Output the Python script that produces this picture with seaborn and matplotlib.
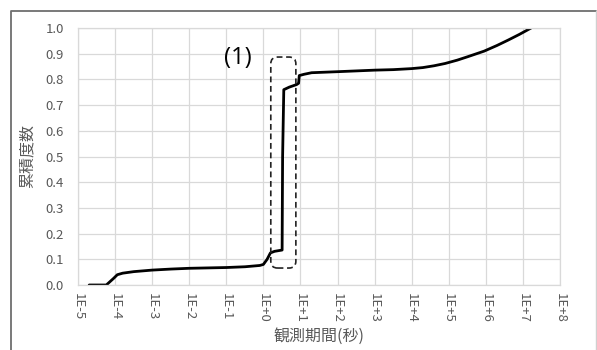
import numpy as np
import pandas as pd
import matplotlib
matplotlib.use("Agg")
import matplotlib.pyplot as plt
import seaborn as sns
from matplotlib.patches import FancyBboxPatch
from matplotlib.lines import Line2D

# 観測期間(秒) と 累積度数
period_sec = [2.0e-5, 5.8e-5, 9.0e-5, 1.15e-4, 1.6e-4, 3.2e-4, 1.0e-3, 3.2e-3,
              1.0e-2, 1.0e-1, 3.2e-1, 8.0e-1, 1.0, 1.26, 1.55, 2.0, 3.2, 3.3,
              3.55, 5.0, 7.9, 8.9, 9.3, 12.6, 20.0, 1.0e2, 1.0e3, 3.2e3,
              1.0e4, 2.0e4, 4.0e4, 8.0e4, 1.7e5, 3.2e5, 9.0e5, 2.0e6,
              4.0e6, 8.0e6, 1.66e7]
cum_freq = [0.0, 0.0, 0.025, 0.04, 0.046, 0.052, 0.058, 0.062,
            0.065, 0.068, 0.071, 0.076, 0.08, 0.10, 0.125, 0.131, 0.136, 0.50,
            0.76, 0.77, 0.78, 0.785, 0.815, 0.82, 0.826, 0.83, 0.836, 0.838,
            0.842, 0.846, 0.853, 0.862, 0.875, 0.888, 0.91, 0.932,
            0.953, 0.975, 1.0]

x_exponents = [-5, -4, -3, -2, -1, 0, 1, 2, 3, 4, 5, 6, 7, 8]
x_tick_labels = ["1E-5", "1E-4", "1E-3", "1E-2", "1E-1", "1E+0", "1E+1",
                 "1E+2", "1E+3", "1E+4", "1E+5", "1E+6", "1E+7", "1E+8"]
y_ticks = [0.0, 0.1, 0.2, 0.3, 0.4, 0.5, 0.6, 0.7, 0.8, 0.9, 1.0]

df = pd.DataFrame({"period": period_sec, "cum": cum_freq})

sns.set_theme(style="whitegrid")
plt.rcParams['font.family'] = ['Noto Sans CJK JP', 'DejaVu Sans']

fig = plt.figure(figsize=(5.97, 3.5), dpi=100)
ax = fig.add_axes([78 / 597, 65 / 350, 482 / 597, 257 / 350])

sns.lineplot(data=df, x="period", y="cum", ax=ax, color="black",
             linewidth=2.0, sort=False, estimator=None)

ax.set_xscale("log")
ax.set_xlim(1e-5, 1e8)
ax.set_ylim(0, 1.0)
ax.set_xticks([10.0 ** e for e in x_exponents])
ax.set_xticklabels(x_tick_labels, rotation=270)
ax.minorticks_off()
ax.set_yticks(y_ticks)
ax.set_yticklabels([f"{v:.1f}" for v in y_ticks])

grey = "#d9d9d9"
ax.grid(True, color=grey, linewidth=0.9)
for sp in ax.spines.values():
    sp.set_color(grey)
    sp.set_linewidth(0.9)
ax.tick_params(axis="both", colors="#595959", labelsize=9.5, length=0)
ax.tick_params(axis="x", pad=6)
ax.tick_params(axis="y", pad=10)

ax.set_xlabel("観測期間(秒)", fontsize=11.5, color="#595959", labelpad=3)
ax.set_ylabel("累積度数", fontsize=11.5, color="#595959", labelpad=7)

# 注目範囲 (1) の破線枠
box = FancyBboxPatch((0.400, 0.066), 0.052, 0.821, transform=ax.transAxes,
                     boxstyle="round,pad=0,rounding_size=0.014",
                     mutation_aspect=482 / 257, fill=False, edgecolor="#222222",
                     linewidth=1.2, linestyle=(0, (3.5, 2.2)), zorder=5)
ax.add_patch(box)
ax.text(0.332, 0.885, "(1)", transform=ax.transAxes, fontsize=17,
        ha="center", va="center", color="black",
        family=['Open Sans', 'DejaVu Sans'])

# 外枠
fig.add_artist(Line2D([11 / 597, 11 / 597, 596 / 597], [0, 1 - 11 / 350, 1 - 11 / 350],
                      transform=fig.transFigure, color="#6e6e6e", linewidth=1.3))
fig.add_artist(Line2D([596 / 597, 596 / 597], [0, 1 - 11 / 350],
                      transform=fig.transFigure, color="#d0d0d0", linewidth=1.0))

fig.savefig("out.png", dpi=100)
